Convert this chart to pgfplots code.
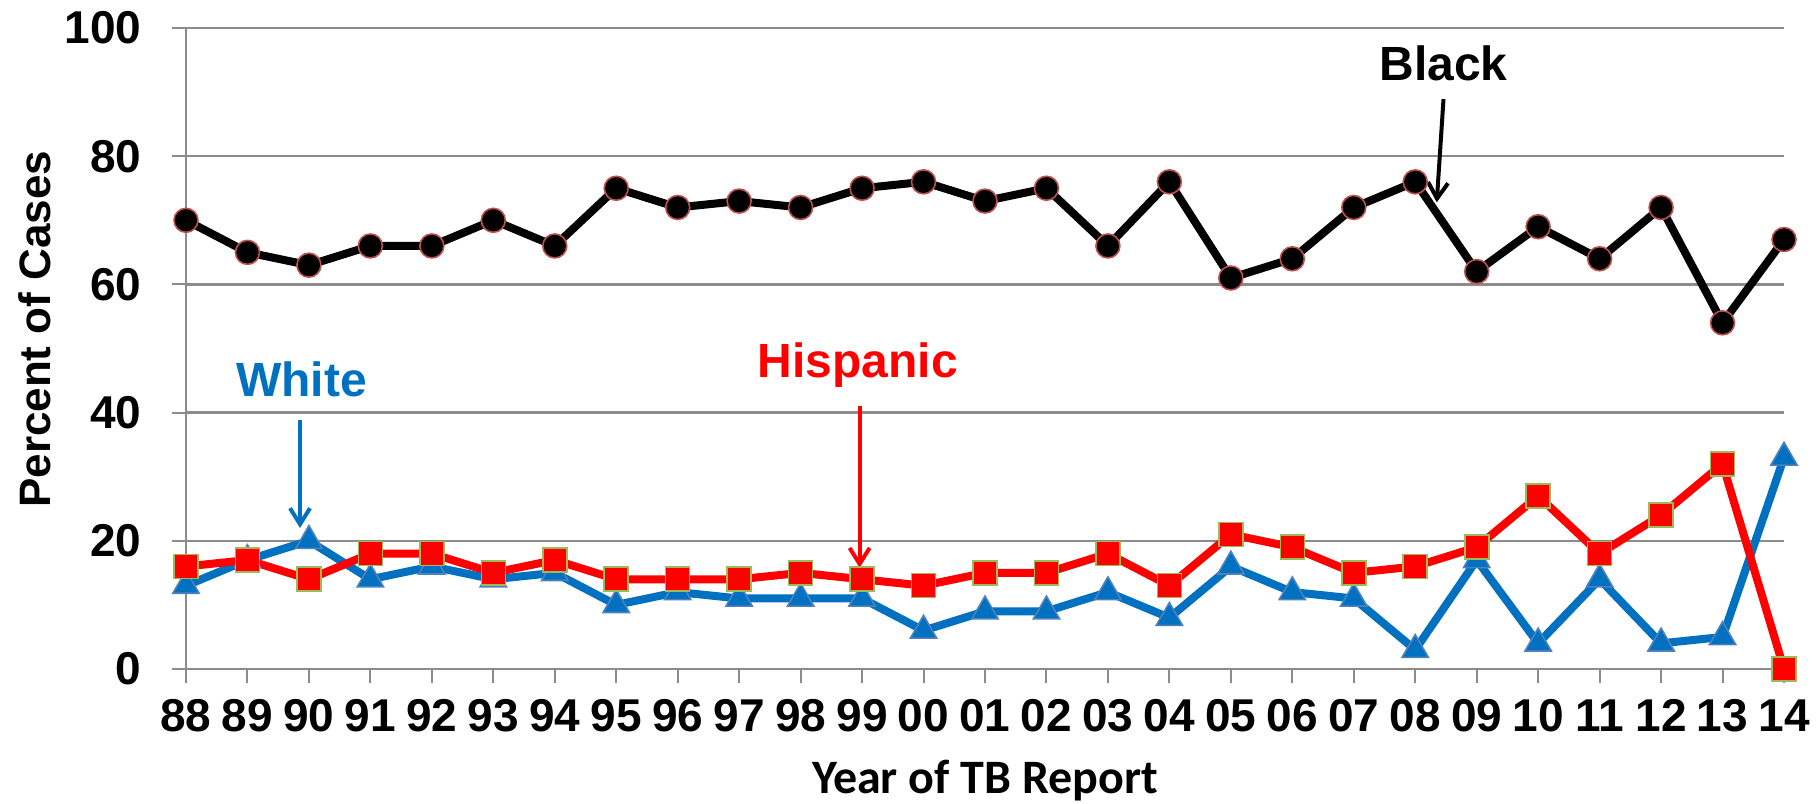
\documentclass[border=0pt]{standalone}
\usepackage{fontspec}
\setmainfont{Liberation Sans}
\newfontfamily\carlito{Carlito}
\usepackage{pgfplots}
\usepackage{pgfplotstable}
\pgfplotsset{compat=1.18}
\usetikzlibrary{arrows.meta}

\definecolor{gridgray}{HTML}{8C8C8C}
\definecolor{wblue}{HTML}{0070C0}
\definecolor{wedge}{HTML}{4F81BD}
\definecolor{hred}{HTML}{FF0000}
\definecolor{hedge}{HTML}{9BBB59}
\definecolor{bedge}{HTML}{C0504D}

% year index (0 = 1988), percent of cases
\pgfplotstableread{
x  black hisp white
0  70 16 13
1  65 17 17
2  63 14 20
3  66 18 14
4  66 18 16
5  70 15 14
6  66 17 15
7  75 14 10
8  72 14 12
9  73 14 11
10 72 15 11
11 75 14 11
12 76 13 6
13 73 15 9
14 75 15 9
15 66 18 12
16 76 13 8
17 61 21 16
18 64 19 12
19 72 15 11
20 76 16 3
21 62 19 17
22 69 27 4
23 64 18 14
24 72 24 4
25 54 32 5
26 67 0  33
}\cases

\begin{document}
\begin{tikzpicture}
\begin{axis}[
  name=ax,
  scale only axis,
  width=399.5pt, height=160.25pt,
  xmin=0, xmax=26, ymin=0, ymax=100,
  clip=false,
  axis lines*=left,
  axis line style={gridgray, line width=0.6pt},
  xtick={0,...,26},
  xticklabels={88,89,90,91,92,93,94,95,96,97,98,99,00,01,02,03,04,05,06,07,08,09,10,11,12,13,14},
  ytick={0,20,...,100},
  ymajorgrids,
  grid style={gridgray, line width=0.6pt},
  tick align=outside,
  major tick length=3.4pt,
  tick style={gridgray, line width=0.5pt},
  tick label style={font=\fontsize{11.5}{13}\selectfont\bfseries},
  /pgf/number format/assume math mode=true,
  xticklabel style={anchor=center, yshift=-8.3pt},
  yticklabel style={anchor=east, xshift=-4.2pt},
  xlabel={Year of TB Report},
  xlabel style={font=\carlito\fontsize{12}{14}\selectfont\bfseries,
    at={(rel axis cs:0.5,0)}, anchor=center, yshift=-28pt},
  ylabel={Percent of Cases},
  ylabel style={font=\fontsize{11}{13}\selectfont\bfseries,
    at={(rel axis cs:0,0.53)}, anchor=center, yshift=37.75pt},
]
\addplot[black, line width=2pt,
  mark=*, mark size=3pt,
  mark options={fill=black, draw=bedge, line width=0.4pt}]
  table[x=x, y=black] {\cases};
\addplot[wblue, line width=2pt,
  mark=triangle*, mark size=3.8pt,
  mark options={fill=wblue, draw=wedge, line width=0.4pt}]
  table[x=x, y=white] {\cases};
\addplot[hred, line width=2pt,
  mark=square*, mark size=3pt,
  mark options={fill=hred, draw=hedge, line width=0.4pt}]
  table[x=x, y=hisp] {\cases};

\node[font=\fontsize{12}{14}\selectfont\bfseries, black] at (20.46,94.5) {Black};
\draw[black, line width=1pt, -{Straight Barb[length=4pt, width=5pt]}] (20.46,88.9) -- (20.35,72.8);
\node[font=\fontsize{12}{14}\selectfont\bfseries, wblue] at (1.88,45.2) {White};
\draw[wblue, line width=1pt, -{Straight Barb[length=4pt, width=5pt]}] (1.855,38.8) -- (1.855,22.0);
\node[font=\fontsize{12}{14}\selectfont\bfseries, hred] at (10.93,47.4) {Hispanic};
\draw[hred, line width=1pt, -{Straight Barb[length=4pt, width=5pt]}] (10.96,41.0) -- (10.96,15.8);
\end{axis}
\pgfresetboundingbox
\path[use as bounding box] ([xshift=-46.5pt, yshift=-33.5pt]ax.south west) rectangle ([xshift=8.75pt, yshift=7pt]ax.north east);
\end{tikzpicture}
\end{document}
